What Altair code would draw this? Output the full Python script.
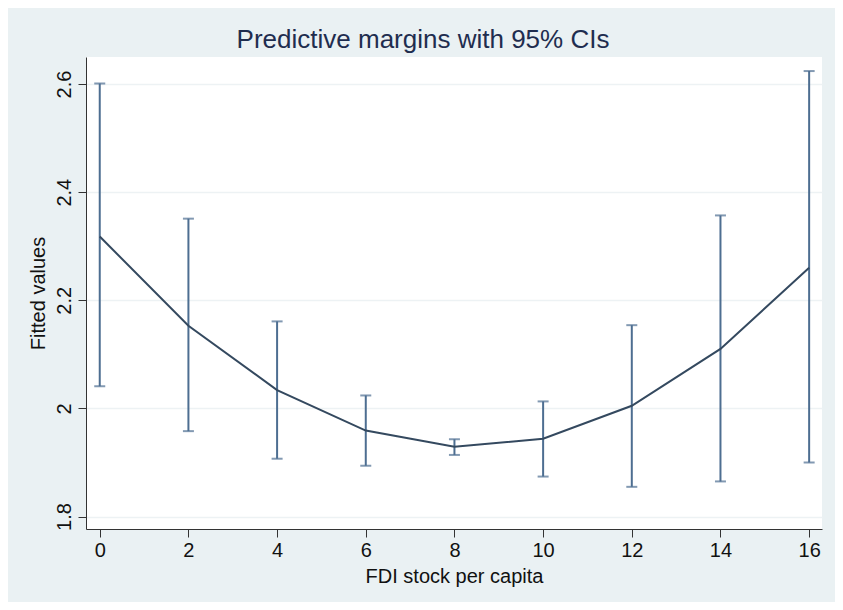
import altair as alt
import pandas as pd

fdi = [0, 2, 4, 6, 8, 10, 12, 14, 16]
fitted = [2.318, 2.153, 2.034, 1.959, 1.929, 1.944, 2.005, 2.110, 2.260]
ci_low = [2.041, 1.958, 1.907, 1.894, 1.914, 1.874, 1.855, 1.865, 1.900]
ci_high = [2.601, 2.351, 2.161, 2.024, 1.943, 2.013, 2.154, 2.357, 2.624]
y_ticks = [1.8, 2.0, 2.2, 2.4, 2.6]
x_ticks = [0, 2, 4, 6, 8, 10, 12, 14, 16]

df = pd.DataFrame({"x": fdi, "y": fitted, "lo": ci_low, "hi": ci_high})

FONT = "Liberation Sans"
BAR = "#4d6e91"
LINE = "#34495f"
FS = 20

xs = alt.Scale(domain=[-0.31, 16.29], nice=False, zero=False)
ys = alt.Scale(domain=[1.777, 2.650], nice=False, zero=False)

xaxis = alt.Axis(values=x_ticks, title="FDI stock per capita", grid=False,
                 tickSize=8, labelPadding=3, titlePadding=6,
                 labelFontSize=FS, titleFontSize=FS, labelFont=FONT, titleFont=FONT,
                 labelColor="#111", titleColor="#111", domainColor="#333",
                 tickColor="#333", titleFontWeight="normal", labelFlush=False,
                 format="d")
yaxis = alt.Axis(values=y_ticks, title="Fitted values", grid=True, gridColor="#edf2f4",
                 gridWidth=1.5, tickSize=8, labelAngle=-90, labelAlign="center",
                 labelBaseline="bottom", labelPadding=4, titlePadding=6,
                 labelFontSize=FS, titleFontSize=FS, labelFont=FONT, titleFont=FONT,
                 labelColor="#111", titleColor="#111", domainColor="#333",
                 tickColor="#333", titleFontWeight="normal", labelFlush=False,
                 labelExpr="datum.value == 2 ? '2' : format(datum.value, '.1f')")

base = alt.Chart(df)

rules = base.mark_rule(color=BAR, strokeWidth=2).encode(
    x=alt.X("x:Q", scale=xs, axis=xaxis),
    y=alt.Y("lo:Q", scale=ys, axis=yaxis),
    y2="hi:Q",
)
cap_lo = base.mark_tick(color=BAR, orient="horizontal", size=11, thickness=2).encode(
    x=alt.X("x:Q", scale=xs), y=alt.Y("lo:Q", scale=ys)
)
cap_hi = base.mark_tick(color=BAR, orient="horizontal", size=11, thickness=2).encode(
    x=alt.X("x:Q", scale=xs), y=alt.Y("hi:Q", scale=ys)
)
line = base.mark_line(color=LINE, strokeWidth=2).encode(
    x=alt.X("x:Q", scale=xs), y=alt.Y("y:Q", scale=ys)
)

chart = alt.layer(rules, cap_lo, cap_hi, line).properties(
    width=736, height=472,
    title=alt.TitleParams("Predictive margins with 95% CIs", font=FONT, fontSize=26,
                          fontWeight="normal", color="#1f2d4f", anchor="middle",
                          offset=4, dx=-31),
    padding={"left": 78, "top": 49, "right": 13, "bottom": 73},
    autosize=alt.AutoSizeParams(type="none"),
    background="#eaf1f3",
).configure_view(fill="white", stroke=None)

chart.save("out.html", embed_options={"renderer": "svg", "actions": False})
